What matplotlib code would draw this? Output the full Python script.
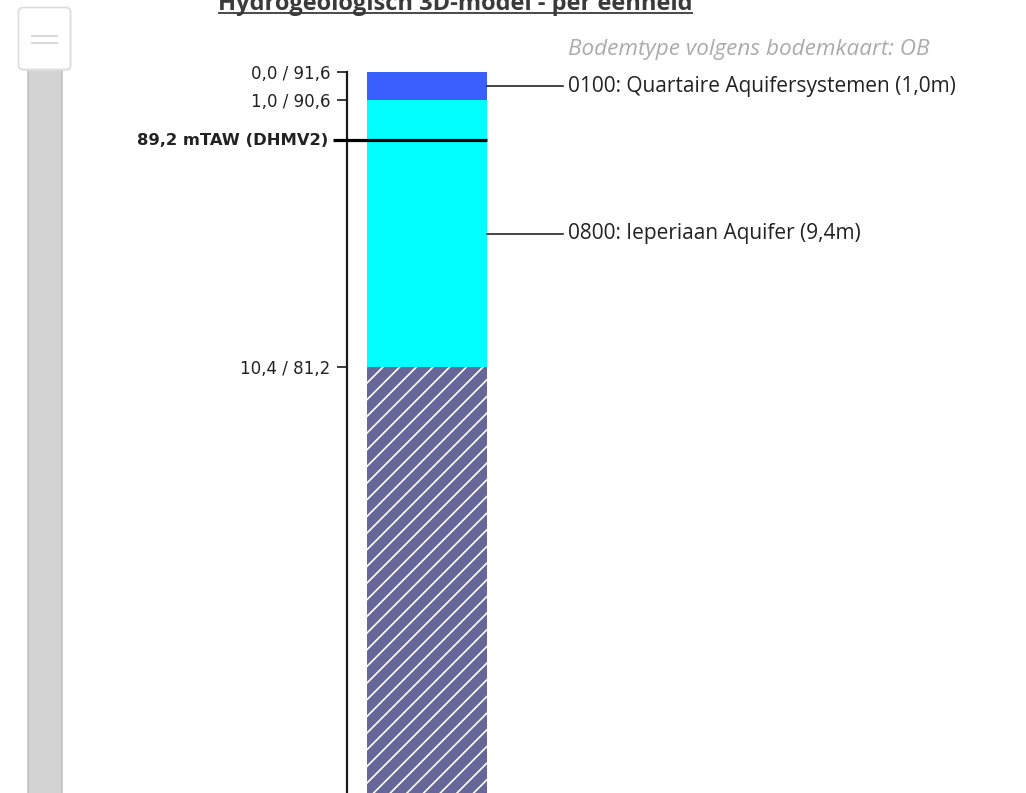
import matplotlib
matplotlib.use("Agg")
import matplotlib.pyplot as plt
from matplotlib.patches import FancyBboxPatch, Rectangle

# ---- data ----
surface_level = 91.6                 # mTAW at depth 0
layer_codes = ["0100", "0800", ""]
layer_names = ["Quartaire Aquifersystemen", "Ieperiaan Aquifer", ""]
layer_tops = [0.0, 1.0, 10.4]        # depth (m)
layer_thickness = [1.0, 9.4, 16.0]   # last layer continues beyond the view
layer_colors = ["#3A5FFF", "#00FFFF", "#666699"]
layer_hatch = [None, None, "//"]
tick_labels = ["0,0 / 91,6", "1,0 / 90,6", "10,4 / 81,2"]
dhmv_level = 89.2
dhmv_label = "89,2 mTAW (DHMV2)"
soil_note = "Bodemtype volgens bodemkaart: OB"
title = "Hydrogeologisch 3D-model - per eenheid"

# ---- geometry (pixels) ----
W, H = 1026, 793
PX_PER_M = 28.37
Y0 = 72            # pixel row of depth 0
AX_X = 347         # pixel column of the depth axis

plt.rcParams["hatch.color"] = "white"
plt.rcParams["hatch.linewidth"] = 1.2

fig = plt.figure(figsize=(W / 100, H / 100), dpi=100)

# background axes in pixel coordinates for page decorations
bg = fig.add_axes([0, 0, 1, 1])
bg.set_xlim(0, W)
bg.set_ylim(H, 0)
bg.axis("off")

# slider track and handle
bg.add_patch(Rectangle((28, 68), 34, 740, facecolor="#d3d3d3",
                       edgecolor="#c2c2c2", lw=1.2))
bg.add_patch(FancyBboxPatch((19.5, 9), 52, 62,
                            boxstyle="round,pad=0,rounding_size=5",
                            facecolor="#e6e6e6", edgecolor="none", alpha=0.6))
bg.add_patch(FancyBboxPatch((18.5, 7.5), 52, 62,
                            boxstyle="round,pad=0,rounding_size=5",
                            facecolor="white", edgecolor="#dcdcdc", lw=1.2))
for yy in (35.5, 42.5):
    bg.plot([31, 58], [yy, yy], color="#d6d6d6", lw=1.3,
            solid_capstyle="butt")

# title (clipped at the top of the page, as in the source), underlined
bg.text(455, 9.5, title, ha="center", va="baseline", fontsize=17,
        fontfamily="Open Sans", fontweight="bold", color="#3a3a3a")
bg.plot([218, 693], [12.5, 12.5], color="#3a3a3a", lw=1.3,
        solid_capstyle="butt")

# main column axes: x in pixels relative to the axis line, y in depth (m)
ax = fig.add_axes([AX_X / W, 0, (W - AX_X) / W, 1])
ax.set_xlim(0, W - AX_X)
ax.set_ylim((H - Y0) / PX_PER_M, -Y0 / PX_PER_M)
ax.patch.set_alpha(0)

ax.bar([80] * len(layer_tops), layer_thickness, bottom=layer_tops,
       width=120, color=layer_colors, edgecolor="white", linewidth=0,
       hatch=layer_hatch, zorder=2)

for s in ("top", "right", "bottom"):
    ax.spines[s].set_visible(False)
ax.spines["left"].set_bounds(0, (H - Y0) / PX_PER_M)
ax.spines["left"].set_linewidth(1.6)
ax.spines["left"].set_color("#1a1a1a")
ax.set_xticks([])
ax.set_yticks(layer_tops)
ax.set_yticklabels(tick_labels, fontfamily="DejaVu Sans", fontsize=12,
                   color="#222222")
ax.tick_params(axis="y", length=7, width=1.2, pad=5, color="#1a1a1a")

# DHMV2 ground level marker
dhmv_depth = surface_level - dhmv_level
ax.plot([-14, 140], [dhmv_depth, dhmv_depth], color="black", lw=2.3,
        clip_on=False, zorder=4, solid_capstyle="butt")
ax.text(-19, dhmv_depth, dhmv_label, ha="right", va="center",
        fontfamily="DejaVu Sans", fontweight="bold", fontsize=11.8,
        color="#222222")

# layer labels with leader lines
for top, thick, code, name in zip(layer_tops, layer_thickness,
                                  layer_codes, layer_names):
    if not code:
        continue
    mid = top + thick / 2
    ax.plot([140, 216], [mid, mid], color="#111111", lw=1.1, zorder=3)
    ax.text(221, mid, f"{code}: {name} ({thick:.1f}m)".replace(".", ","),
            ha="left", va="center", fontfamily="Open Sans", fontsize=15,
            color="#222222")

# soil type note
ax.text(221, (50 - Y0) / PX_PER_M, soil_note, ha="left", va="center",
        fontfamily="Open Sans", fontstyle="italic", fontsize=16.2,
        color="#ababab")

fig.savefig("out.png", dpi=100)
